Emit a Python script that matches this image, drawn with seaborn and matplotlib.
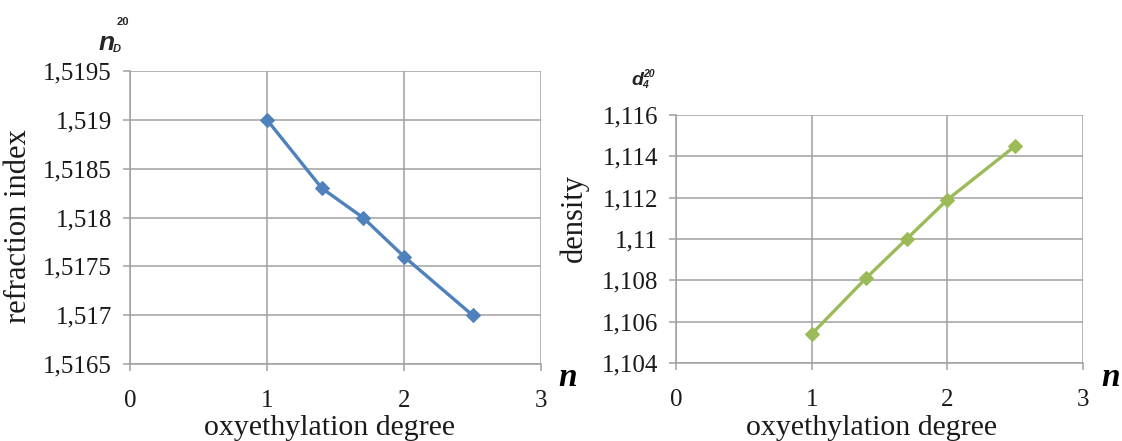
import matplotlib
matplotlib.use("Agg")
import matplotlib.pyplot as plt
import seaborn as sns
import pandas as pd

# --- DATA ---
oxy_degree = [1, 1.4, 1.7, 2, 2.5]
refraction_index = [1.5190, 1.5183, 1.5180, 1.5176, 1.5170]
density = [1.1054, 1.1081, 1.1100, 1.1119, 1.1145]

x_ticks = [0, 1, 2, 3]
refr_ticks = [1.5165, 1.5170, 1.5175, 1.5180, 1.5185, 1.5190, 1.5195]
dens_ticks = [1.104, 1.106, 1.108, 1.110, 1.112, 1.114, 1.116]

BLUE = "#4F81BD"
GREEN = "#9BBB59"
GRID = "#a0a0a0"
SERIF = "Liberation Serif"
SANS = "Liberation Sans"

sns.set_style("white")
plt.rcParams["font.family"] = [SERIF, "DejaVu Serif"]

W, H = 1122, 441


def fmt(v):
    # comma decimal, trailing zeros dropped, like the original
    return f"{v:.4f}".rstrip("0").rstrip(".").replace(".", ",")


def style_axis(ax, yticks):
    ax.set_xlim(0, 3)
    ax.set_ylim(yticks[0], yticks[-1])
    ax.set_xticks(x_ticks)
    ax.set_xticklabels([str(t) for t in x_ticks])
    ax.set_yticks(yticks)
    ax.set_yticklabels([fmt(t) for t in yticks])
    ax.grid(True, color=GRID, linewidth=1.1)
    ax.set_axisbelow(True)
    for side in ["top", "right"]:
        ax.spines[side].set_visible(False)
    for side in ["left", "bottom"]:
        ax.spines[side].set_color(GRID)
        ax.spines[side].set_linewidth(1.1)
    ax.tick_params(axis="both", which="major", length=5, width=1.1,
                   color=GRID, labelsize=18, labelcolor="#1a1a1a",
                   direction="out", bottom=True, left=True)
    ax.tick_params(axis="x", pad=14)
    ax.tick_params(axis="y", pad=8)
    ax.set_xlabel("")
    ax.set_ylabel("")
    legend = ax.get_legend()
    if legend is not None:
        legend.remove()


def px(x, y):
    return x / W, 1 - y / H


fig = plt.figure(figsize=(W / 100, H / 100), dpi=100)

# left panel: refraction index
ax1 = fig.add_axes([130 / W, 1 - 364 / H, 411 / W, 293 / H])
df1 = pd.DataFrame({"n": oxy_degree, "value": refraction_index})
sns.lineplot(data=df1, x="n", y="value", ax=ax1, color=BLUE, linewidth=2.4,
             marker="D", markersize=7, markeredgecolor=BLUE)
style_axis(ax1, refr_ticks)

# right panel: density
ax2 = fig.add_axes([676 / W, 1 - 363 / H, 407 / W, 248 / H])
df2 = pd.DataFrame({"n": oxy_degree, "value": density})
sns.lineplot(data=df2, x="n", y="value", ax=ax2, color=GREEN, linewidth=2.4,
             marker="D", markersize=7, markeredgecolor=GREEN)
style_axis(ax2, dens_ticks)

# axis titles
fig.text(*px(19, 226), "refraction index", rotation=90, ha="center",
         va="center", fontsize=22, color="#1a1a1a")
fig.text(*px(574, 218), "density", rotation=90, ha="center",
         va="center", fontsize=22, color="#1a1a1a")
fig.text(*px(330, 435), "oxyethylation degree", ha="center",
         va="baseline", fontsize=21.5, color="#1a1a1a")
fig.text(*px(871, 435), "oxyethylation degree", ha="center",
         va="baseline", fontsize=21.5, color="#1a1a1a")

# "n" axis markers
for xx in (568, 1111):
    fig.text(*px(xx, 386), "n", ha="center", va="baseline", fontsize=24,
             fontweight="bold", fontstyle="italic", color="black")

# n_D^20 symbol
fig.text(*px(99, 50), "n", ha="left", va="baseline", fontsize=19,
         fontweight="bold", fontstyle="italic", family=SANS)
fig.text(*px(113, 52), "D", ha="left", va="baseline", fontsize=8,
         fontweight="bold", fontstyle="italic", family=SANS)
fig.text(*px(117, 25), "20", ha="left", va="baseline", fontsize=8,
         fontweight="bold", family=SANS)

# d_4^20 symbol
fig.text(*px(631, 85), "d", ha="left", va="baseline", fontsize=14,
         fontweight="bold", fontstyle="italic", family=SANS)
fig.text(*px(642, 88), "4", ha="left", va="baseline", fontsize=7.5,
         fontweight="bold", fontstyle="italic", family=SANS)
fig.text(*px(643, 77), "20", ha="left", va="baseline", fontsize=7.5,
         fontweight="bold", fontstyle="italic", family=SANS)

fig.savefig("out.png", dpi=100)
